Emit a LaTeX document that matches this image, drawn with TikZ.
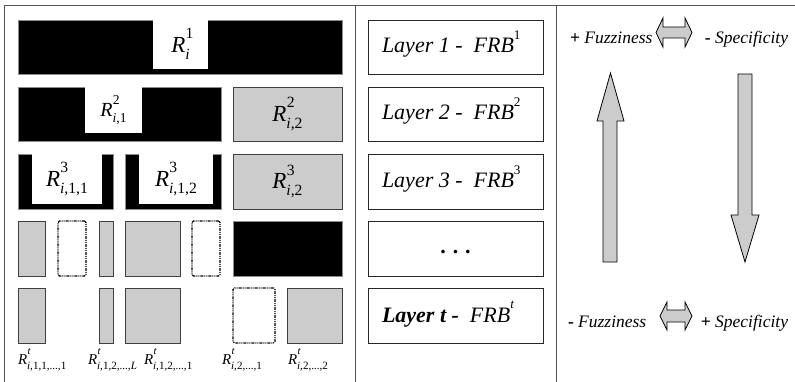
\documentclass[tikz,border=0pt]{standalone}
\usepackage{fontspec}
\setmainfont{Liberation Serif}
\usepackage{graphicx}
\definecolor{gfill}{HTML}{CCCCCC}
\definecolor{framec}{HTML}{555555}
\newcommand\RL[2]{\textit{R}\rlap{\kern0.3pt\raisebox{0.6em}{\scalebox{0.68}{#1}}}\raisebox{-0.3em}{\scalebox{0.68}{#2}}}
\newcommand\RS[2]{\textit{R}\rlap{\kern0.5pt\raisebox{0.62em}{\scalebox{0.72}{#1}}}\raisebox{-0.34em}{\scalebox{0.74}{#2}}}
\newcommand\bx[6]{\node[#2, anchor=north west, minimum width={#5pt-#3pt}, minimum height={#6pt-#4pt}] (#1) at (#3,#4) {};}
\begin{document}
\begin{tikzpicture}[x=1pt,y=-1pt,
  every node/.style={inner sep=0pt, outer sep=0pt},
  blk/.style={draw=black!45, fill=black, line width=0.8pt},
  wht/.style={fill=white, draw=none},
  gry/.style={draw=black!75, fill=gfill, line width=0.9pt},
  dotbox/.style={draw=black, line width=1.2pt, dash pattern=on 3pt off 1pt on 1pt off 1pt on 1pt off 1pt, rounded corners=1.5pt},
  lay/.style={draw=black!85, fill=white, line width=0.9pt},
  frame/.style={draw=framec, line width=1pt},
  arr/.style={draw=black, fill=gfill, line width=0.8pt, line join=miter},
  big/.style={font=\fontsize{23}{27}\selectfont},
  mid/.style={font=\fontsize{20}{24}\selectfont},
  lbig/.style={font=\fontsize{22}{26}\selectfont},
  sml/.style={font=\fontsize{15}{17}\selectfont},
  rt/.style={font=\fontsize{17.5}{20}\selectfont}]
\useasboundingbox (0,0) rectangle (795,382);
% frame
\draw[frame] (4,382) -- (4,6) -- (795,6);
\draw[frame] (355,6) -- (355,382);
\draw[frame] (556,6) -- (556,382);
% row 1
\bx{b1}{blk}{18}{20}{342}{74}
\bx{w1}{wht}{153}{20.5}{208}{69}
\node[big] at ([yshift=1pt]w1.center) {\RL{1}{\textit{i}}};
% row 2
\bx{b21}{blk}{18}{87}{221}{141}
\bx{w21}{wht}{85}{87.5}{142}{133}
\node[mid] at (w21.center) {\RL{2}{\textit{i},1}};
\bx{g22}{gry}{233}{87}{342}{141}
\node[big] at (g22.center) {\RL{2}{\textit{i},2}};
% row 3
\bx{b31}{blk}{18}{154}{113}{209}
\bx{w31}{wht}{32}{154.5}{102}{204}
\node[big] at (w31.center) {\RL{3}{\textit{i},1,1}};
\bx{b32}{blk}{125}{154}{221}{209}
\bx{w32}{wht}{139}{154.5}{213}{204}
\node[big] at (w32.center) {\RL{3}{\textit{i},1,2}};
\bx{g33}{gry}{233}{154}{342}{209}
\node[big] at (g33.center) {\RL{3}{\textit{i},2}};
% row 4
\bx{g41}{gry}{18}{221}{45}{276}
\bx{d41}{dotbox}{58}{221}{86}{276}
\bx{g42}{gry}{99}{221}{113}{276}
\bx{g43}{gry}{125}{221}{180}{276}
\bx{d42}{dotbox}{192}{221}{220}{276}
\bx{b44}{blk}{233}{221}{342}{276}
% row 5
\bx{g51}{gry}{18}{288}{45}{343}
\bx{g52}{gry}{99}{288}{113}{343}
\bx{g53}{gry}{125}{288}{180}{343}
\bx{d51}{dotbox}{233}{288}{275}{343}
\bx{g54}{gry}{287}{288}{342}{343}
% bottom labels
\node[sml, anchor=base west] (l1) at (18,364) {\RS{\textit{t}}{\textit{i},1,1,...,1}};
\node[sml, anchor=base west] (l2) at (88,364) {\RS{\textit{t}}{\textit{i},1,2,...,\textit{L}}};
\node[sml, anchor=base west] (l3) at (144,364) {\RS{\textit{t}}{\textit{i},1,2,...,1}};
\node[sml, anchor=base west] (l4) at (222,364) {\RS{\textit{t}}{\textit{i},2,...,1}};
\node[sml, anchor=base west] (l5) at (288,364) {\RS{\textit{t}}{\textit{i},2,...,2}};
% middle column
\bx{L1}{lay}{368}{20}{543}{74}
\node[lbig, anchor=base west] at (382,53) {\textit{Layer 1 -\ \ FRB}\raisebox{0.62em}{\scalebox{0.6}{1}}};
\bx{L2}{lay}{368}{87}{543}{141}
\node[lbig, anchor=base west] at (382,120) {\textit{Layer 2 -\ \ FRB}\raisebox{0.62em}{\scalebox{0.6}{2}}};
\bx{L3}{lay}{368}{154}{543}{209}
\node[lbig, anchor=base west] at (382,188) {\textit{Layer 3 -\ \ FRB}\raisebox{0.62em}{\scalebox{0.6}{3}}};
\bx{L4}{lay}{368}{221}{543}{276}
\node[lbig] at ([yshift=-4pt]L4.center) {\textbf{.\hspace{7pt}.\hspace{7pt}.}};
\bx{L5}{lay}{368}{288}{543}{343}
\node[lbig, anchor=base west] at (382,322) {\textbf{\textit{Layer t -}}\ \ \textit{FRB}\raisebox{0.62em}{\scalebox{0.6}{\textit{t}}}};
% right column
\node[rt, anchor=base west] (tf) at (570,44) {\textbf{+} \textit{Fuzziness}};
\node[rt, anchor=base east] (ts) at (788,44) {\textbf{-} \textit{Specificity}};
\draw[arr] (656,32.5) -- (663,18) -- (663,27) -- (685,27) -- (685,18) -- (692,32.5) -- (685,47) -- (685,38) -- (663,38) -- (663,47) -- cycle;
\node[rt, anchor=base west] (bf) at (568,327) {\textbf{-} \textit{Fuzziness}};
\node[rt, anchor=base east] (bs) at (788,327) {\textbf{+} \textit{Specificity}};
\draw[arr] (660,316) -- (667,302) -- (667,310) -- (685,310) -- (685,302) -- (692,316) -- (685,330) -- (685,322) -- (667,322) -- (667,330) -- cycle;
% vertical arrows
\draw[arr] (610.5,73) -- (624,121) -- (617,121) -- (617,262) -- (603,262) -- (603,121) -- (597,121) -- cycle;
\draw[arr] (738,74) -- (752,74) -- (752,215) -- (759,215) -- (745,262) -- (731,215) -- (738,215) -- cycle;
\end{tikzpicture}
\end{document}
